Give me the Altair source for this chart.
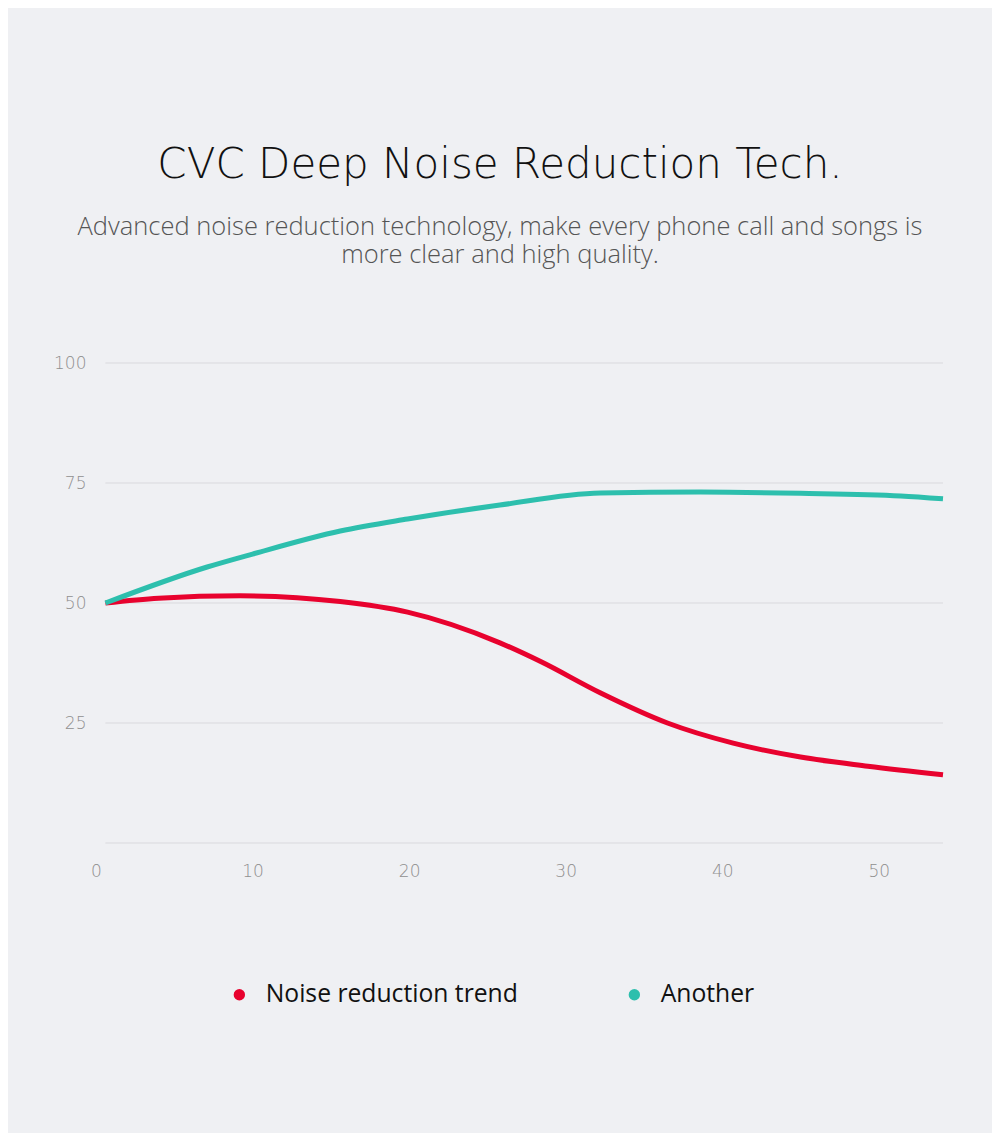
import altair as alt
import pandas as pd

# ---- data ----
title_text = "CVC Deep Noise Reduction Tech."
subtitle_lines = ["Advanced noise reduction technology, make every phone call and songs is",
                  "more clear and high quality."]

series_names = ["Noise reduction trend", "Another"]
series_colors = ["#E8022E", "#2DBFAD"]

red_x = [0.6, 4.0, 9.2, 15.6, 19.9, 25.8, 28.4, 32.2, 36.5, 40.7, 45.0, 49.3, 54.1]
red_y = [50.0, 51.0, 51.5, 50.3, 48.1, 41.7, 37.8, 31.3, 25.0, 20.8, 17.9, 16.0, 14.2]

green_x = [0.6, 7.1, 10.0, 15.6, 19.9, 25.8, 32.2, 38.6, 45.0, 51.4, 54.1]
green_y = [50.0, 57.5, 60.2, 65.0, 67.5, 70.4, 72.9, 73.1, 72.85, 72.3, 71.7]

y_grid = [0, 25, 50, 75, 100]
x_ticks = [0, 10, 20, 30, 40, 50]
x_domain = [0, 54.1]
y_domain = [0, 100]

rows = []
for i, (xv, yv) in enumerate(zip(red_x, red_y)):
    rows.append({"x": xv, "y": yv, "series": series_names[0], "order": i})
for i, (xv, yv) in enumerate(zip(green_x, green_y)):
    rows.append({"x": xv, "y": yv, "series": series_names[1], "order": i})
df = pd.DataFrame(rows)

grid_df = pd.DataFrame({"y": y_grid, "x": [green_x[0]] * len(y_grid), "x2": [x_domain[1]] * len(y_grid)})

THIN = "DejaVu Sans"
BODY = "Open Sans"

xscale = alt.Scale(domain=x_domain, nice=False, zero=False)
yscale = alt.Scale(domain=y_domain, nice=False)

grid = alt.Chart(grid_df).mark_rule(color="#d9d9dd", strokeWidth=1).encode(
    x=alt.X("x:Q", scale=xscale,
            axis=alt.Axis(values=x_ticks, title=None, grid=False, domain=False, ticks=False,
                          labelFlush=False,
                          labelFontSize=17, labelFont=THIN, labelFontWeight=200,
                          labelColor="#8f8f8f", labelPadding=20)),
    x2="x2:Q",
    y=alt.Y("y:Q", scale=yscale,
            axis=alt.Axis(values=y_grid, title=None, grid=False, domain=False, ticks=False,
                          labelFontSize=17, labelFont=THIN, labelFontWeight=200,
                          labelColor="#8f8f8f", labelPadding=10,
                          labelExpr="datum.value == 0 ? '' : datum.label")),
)

lines = alt.Chart(df).mark_line(strokeWidth=5, interpolate="monotone").encode(
    x=alt.X("x:Q", scale=xscale),
    y=alt.Y("y:Q", scale=yscale),
    order="order:Q",
    color=alt.Color("series:N", scale=alt.Scale(domain=series_names, range=series_colors),
                    sort=series_names, legend=None),
)

# invisible points that carry the (filled-dot) legend
legend_pts = alt.Chart(df).mark_circle(size=0, opacity=1).encode(
    x=alt.X("x:Q", scale=xscale),
    y=alt.Y("y:Q", scale=yscale),
    color=alt.Color("series:N", scale=alt.Scale(domain=series_names, range=series_colors),
                    sort=series_names,
                    legend=alt.Legend(orient="none", legendX=131, legendY=619,
                                      direction="horizontal", title=None,
                                      symbolType="circle", symbolSize=130, symbolStrokeWidth=0,
                                      symbolOpacity=1,
                                      labelFontSize=24.7, labelFont=BODY, labelColor="#111111",
                                      labelOffset=14, columnPadding=104, labelLimit=400)),
)

title_df = pd.DataFrame({"t": [title_text]})
title = alt.Chart(title_df).mark_text(
    font=THIN, fontSize=42, fontWeight=200, color="#111111", align="center", baseline="alphabetic"
).encode(text="t:N", x=alt.value(404), y=alt.value(-185))

sub_df = pd.DataFrame({"t": [subtitle_lines]})
subtitle = alt.Chart(sub_df).mark_text(
    font=BODY, fontSize=25.5, fontWeight=300, color="#555555", align="center",
    baseline="alphabetic", lineHeight=28
).encode(text="t", x=alt.value(404), y=alt.value(-128))

chart = alt.layer(grid, lines, legend_pts, title, subtitle).resolve_scale(
    color="independent"
).resolve_legend(color="independent").properties(
    width=847, height=480,
    autosize=alt.AutoSizeParams(type="none"),
    padding={"left": 88, "top": 355, "right": 49, "bottom": 290},
    background="#eff0f3",
).configure_view(stroke=None)

chart.save("out.html", embed_options={"renderer": "svg", "actions": False})
